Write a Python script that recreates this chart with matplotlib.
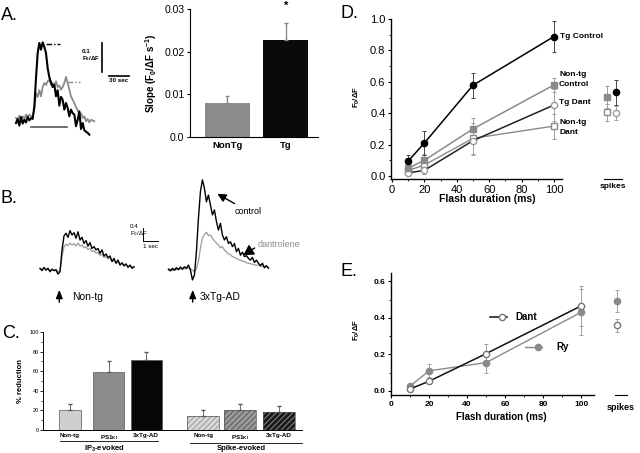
import matplotlib
matplotlib.use('Agg')
import matplotlib.pyplot as plt
import numpy as np
from matplotlib.lines import Line2D

plt.rcParams['font.family'] = ['Liberation Sans', 'DejaVu Sans']
plt.rcParams['mathtext.default'] = 'regular'
plt.rcParams['hatch.linewidth'] = 0.7

W, H = 640, 453

# --- A: Ca traces (F0/dF, one sample every 2.5 s) and slopes
a_dt = 2.5
a_tg_trace = [0, .014, -.009, .021, -.002, .011, .002, .021, .009, .017, .014, .057,
              .155, .241, .276, .253, .278, .262, .241, .189, .158, .140, .124, .132,
              .092, .113, .060, .090, .080, .046, .069, .052, .023, .046, .034, .029,
              -.011, .011, .040, -.021, 0, -.025, -.030, -.034, -.040]
a_nontg_trace = [.017, .011, .025, .011, .023, .014, .029, .021, .029, .023, .025, .046,
                 .103, .090, .113, .092, .124, .138, .131, .144, .149, .132, .138, .129,
                 .144, .124, .129, .115, .124, .138, .159, .138, .115, .092, .080, .069,
                 .055, .044, .029, .034, .017, .023, .006, .014, .002, .011, .009, .006]
a_groups = ['NonTg', 'Tg']
a_slope = [0.0080, 0.0227]
a_slope_err = [0.0016, 0.0040]

# --- B: flash traces (F0/dF, one sample every 2/15 s)
b_dt = 2 / 15
b_nontg_ctrl = [.06, -.02, .09, 0, .06, -.06, .02, -.02, 0, -.14, -.06, .69, 1.17, 1.26,
                1.12, 1.35, 1.20, 1.28, 1.09, 1.31, 1.03, 1.12, .91, 1.01, .82, .94, .74,
                .80, .69, .74, .57, .69, .48, .55, .43, .48, .29, .40, .23, .34, .17, .25,
                .14, .21, .09, .17, .06, .11]
b_nontg_dant = [.03, .02, .05, .01, .03, -.02, .04, 0, .02, -.05, -.03, .45, .80, .88,
                .84, .92, .86, .90, .83, .92, .82, .86, .76, .80, .70, .74, .63, .66, .58,
                .60, .50, .54, .43, .46, .38, .40, .30, .33, .25, .27, .20, .22, .16, .18,
                .12, .14, .10, .11]
b_tg_ctrl = [.03, -.03, .06, -.01, .08, .01, .10, .03, .11, .06, .17, 0, -.34, -.17, .63,
             1.77, 2.69, 3.09, 2.80, 2.34, 2.57, 2.23, 1.89, 2.06, 1.66, 1.37, 1.60, 1.20,
             1.03, 1.14, .91, .97, .80, .91, .63, .74, .51, .61, .46, .49, .40, .34, .43,
             .26, .34, .23, .15, .23, .08, .15, .06]
b_tg_dant = [0, .03, -.02, .04, .01, .05, .02, .06, .03, .05, .07, .04, 0, -.06, .05, .30,
             .75, 1.10, 1.22, 1.29, 1.18, 1.20, 1.09, 1.00, .92, .86, .76, .80, .68, .62,
             .55, .53, .46, .43, .40, .36, .34, .30, .29, .25, .23, .22, .20, .18, .16,
             .17, .14, .12, .10, .11, .09]
b_tg_start = 8.56  # s, where the 3xTg-AD trace starts

# --- C: % reduction by dantrolene
c_labels = ['Non-tg', 'PS1$_{KI}$', '3xTg-AD']
c_ip3 = [20, 59, 71]
c_ip3_err = [7, 11, 9]
c_spike = [14, 20.5, 18]
c_spike_err = [6, 6, 6]

# --- D: flash duration series
flash = [10, 20, 50, 100]
d_tg_ctrl = [0.095, 0.21, 0.578, 0.888]
d_tg_ctrl_err = [0.04, 0.075, 0.08, 0.10]
d_nontg_ctrl = [0.05, 0.10, 0.30, 0.58]
d_nontg_ctrl_err = [0.02, 0.04, 0.07, 0.045]
d_tg_dant = [0.02, 0.036, 0.225, 0.452]
d_tg_dant_err = [0.01, 0.02, 0.09, 0.10]
d_nontg_dant = [0.035, 0.07, 0.24, 0.318]
d_nontg_dant_err = [0.01, 0.02, 0.10, 0.08]
# spikes: nontg ctrl, tg ctrl, nontg dant, tg dant
d_spk = [0.505, 0.533, 0.405, 0.40]
d_spk_err = [0.07, 0.08, 0.055, 0.045]

# --- E
e_dant = [0.011, 0.053, 0.204, 0.465]
e_dant_err = [0.008, 0.015, 0.055, 0.11]
e_ry = [0.026, 0.11, 0.155, 0.43]
e_ry_err = [0.01, 0.035, 0.055, 0.125]
e_spk = [0.49, 0.36]  # ry, dant
e_spk_err = [0.06, 0.035]

GREY = '#8a8a8a'

fig = plt.figure(figsize=(6.4, 4.53), dpi=100)


def box(x0, y0, x1, y1):
    return fig.add_axes([x0 / W, 1 - y1 / H, (x1 - x0) / W, (y1 - y0) / H])


def fp(x, y):
    return (x / W, 1 - y / H)


def ftext(x, y, s, **kw):
    fig.text(x / W, 1 - y / H, s, **kw)


# panel letters
for lab, (x, y) in zip('ABCDE', [(1, 20), (1, 203), (2, 338), (341, 18), (341, 276)]):
    ftext(x, y, lab + '.', fontsize=13, va='baseline')

# ---------- A traces
ax = box(10, 35, 135, 140)
t = np.arange(len(a_nontg_trace)) * a_dt
ax.plot(t, a_nontg_trace, color=GREY, lw=1.3)
t = np.arange(len(a_tg_trace)) * a_dt
ax.plot(t, a_tg_trace, color='k', lw=1.5)
ax.plot([45, 66], [0.272, 0.272], color='k', lw=1, ls=(0, (4, 1.5, 1, 1.5)))
ax.plot([76, 96], [0.140, 0.140], color=GREY, lw=1, ls=(0, (4, 1.5, 1, 1.5)))
ax.plot([22, 76], [-0.014, -0.014], color='#555555', lw=1.2)
ax.plot([129.5, 129.5], [0.176, 0.276], color='k', lw=1.2)
ax.plot([139.5, 169.5], [0.163, 0.163], color='k', lw=1.2)
ax.text(98.5, 0.245, '0.1', fontsize=4.5, fontweight='bold', va='center')
ax.text(98.5, 0.222, 'F$_0$/ΔF', fontsize=4.5, fontweight='bold', va='center')
ax.text(154.5, 0.155, '30 sec', fontsize=4.5, fontweight='bold', ha='center', va='top')
ax.set_xlim(-9, 178.5)
ax.set_ylim(-0.0586, 0.3034)
ax.axis('off')

# ---------- A bars
ax = box(190, 9, 318, 137)
xa = np.arange(len(a_groups))
ax.bar(xa, a_slope, width=0.77, color=['#8c8c8c', '#0a0a0a'], edgecolor='none')
ax.errorbar(xa, a_slope, yerr=[[0, 0], a_slope_err], fmt='none', ecolor=GREY,
            elinewidth=1, capsize=1.5)
ax.text(1, 0.0308, '*', ha='center', va='center', fontsize=8, fontweight='bold')
ax.set_xlim(-0.64, 1.55)
ax.set_ylim(0, 0.03)
ax.set_yticks([0, 0.01, 0.02, 0.03], ['0.0', '0.01', '0.02', '0.03'])
ax.set_xticks(xa, a_groups, fontweight='bold', fontsize=6.8)
ax.tick_params(axis='x', length=0, pad=3)
ax.tick_params(axis='y', labelsize=7.5, length=2.5, width=0.8, pad=1.5)
for s in ['top', 'right']:
    ax.spines[s].set_visible(False)
for s in ['left', 'bottom']:
    ax.spines[s].set_linewidth(0.8)
ax.set_ylabel('Slope (F$_0$/ΔF s$^{-1}$)', fontsize=7, fontweight='bold', labelpad=4)

# ---------- B traces
ax = box(30, 165, 300, 290)
t = np.arange(len(b_nontg_dant)) * b_dt
ax.plot(t, b_nontg_dant, color='#9a9a9a', lw=0.9)
ax.plot(t, b_nontg_ctrl, color='k', lw=1.0)
t = b_tg_start + np.arange(len(b_tg_dant)) * b_dt
ax.plot(t, b_tg_dant, color='#9a9a9a', lw=0.9)
ax.plot(t, b_tg_ctrl, color='k', lw=1.0)
ax.plot([6.84, 6.84], [1.03, 1.43], color='k', lw=0.7)
ax.plot([6.84, 7.84], [1.0, 1.0], color='k', lw=0.7)
ax.text(6.0, 1.48, '0.4', fontsize=4.5, va='center')
ax.text(6.0, 1.26, 'F$_0$/ΔF', fontsize=4.5, va='center')
ax.text(7.35, 0.9, '1 sec', fontsize=4.5, ha='center', va='top')
ax.set_xlim(-0.667, 17.33)
ax.set_ylim(-0.685, 3.6)
ax.axis('off')

arrow_kw = dict(arrowstyle='-|>,head_length=0.5,head_width=0.2', color='k', lw=1)
fig.add_artist(plt.Annotation('', xy=fp(59.3, 287), xytext=fp(59.3, 305),
                              xycoords='figure fraction', arrowprops=arrow_kw))
fig.add_artist(plt.Annotation('', xy=fp(192.7, 287), xytext=fp(192.7, 305),
                              xycoords='figure fraction', arrowprops=arrow_kw))
ftext(72, 300, 'Non-tg', fontsize=7.5)
ftext(200, 300, '3xTg-AD', fontsize=7.5)
fig.add_artist(plt.Annotation('', xy=fp(215, 192.5), xytext=fp(237, 205),
                              xycoords='figure fraction',
                              arrowprops=dict(arrowstyle='-|>,head_length=0.5,head_width=0.25',
                                              color='k', lw=1)))
ftext(235, 214, 'control', fontsize=6.5)
fig.add_artist(plt.Annotation('', xy=fp(241, 256.5), xytext=fp(257, 246.5),
                              xycoords='figure fraction',
                              arrowprops=dict(arrowstyle='-|>,head_length=0.6,head_width=0.35',
                                              color='k', lw=1)))
ftext(258, 247, 'dantrolene', fontsize=6.5, color='#8a8a8a')

# ---------- C bars
ax = box(43, 332, 302, 430)
ip3_x = [0.72, 1.75, 2.75]
spk_x = [4.27, 5.25, 6.28]
ax.bar(ip3_x, c_ip3, width=[0.6, 0.83, 0.83], color=['#cfcfcf', '#8c8c8c', '#060606'],
       edgecolor='#555555', lw=0.5)
ax.errorbar(ip3_x, c_ip3, yerr=[[0] * 3, c_ip3_err], fmt='none', ecolor='#555555',
            elinewidth=0.6, capsize=1.2)
ax.bar(spk_x, c_spike, width=0.85, color=['#d8d8d8', '#9a9a9a', '#1a1a1a'],
       edgecolor=['#9a9a9a', '#5a5a5a', '#8a8a8a'], lw=0, hatch='//////')
ax.bar(spk_x, c_spike, width=0.85, fill=False, edgecolor='#555555', lw=0.5)
ax.errorbar(spk_x, c_spike, yerr=[[0] * 3, c_spike_err], fmt='none', ecolor='#555555',
            elinewidth=0.6, capsize=1.2)
ax.set_xlim(0, 6.9)
ax.set_ylim(0, 100)
ax.set_yticks(range(0, 101, 20))
ax.set_yticks(range(10, 100, 20), minor=True)
ax.set_xticks(ip3_x + spk_x, c_labels + c_labels, fontsize=4.5, fontweight='bold')
ax.tick_params(axis='x', length=0, pad=2.5)
ax.tick_params(axis='y', labelsize=4, length=2, width=0.6, pad=1)
ax.tick_params(axis='y', which='minor', length=1.2, width=0.5)
for s in ['top', 'right']:
    ax.spines[s].set_visible(False)
for s in ['left', 'bottom']:
    ax.spines[s].set_linewidth(0.7)
ax.set_ylabel('% reduction', fontsize=5.5, fontweight='bold', labelpad=4)
fig.add_artist(Line2D([60 / W, 158 / W], [1 - 441 / H] * 2, color='k', lw=0.6))
fig.add_artist(Line2D([190 / W, 302 / W], [1 - 443 / H] * 2, color='k', lw=0.6))
ftext(104, 449, 'IP$_3$-evoked', fontsize=5.5, fontweight='bold', ha='center', va='center')
ftext(241, 449, 'Spike-evoked', fontsize=5.5, fontweight='bold', ha='center', va='center')


def style_xy(ax, labelsize, bold):
    for s in ['top', 'right']:
        ax.spines[s].set_visible(False)
    for s in ['left', 'bottom']:
        ax.spines[s].set_linewidth(1.0)
    ax.tick_params(labelsize=labelsize, length=2.5, width=0.8, pad=1.5)
    ax.tick_params(which='minor', length=1.5, width=0.6)
    if bold:
        for lab in ax.get_xticklabels() + ax.get_yticklabels():
            lab.set_fontweight('bold')


eb = dict(capsize=1.6, elinewidth=0.7, capthick=0.7)
MS = 4

# ---------- D
ax = box(391, 19, 562, 179)
ax.errorbar(flash, d_nontg_dant, yerr=d_nontg_dant_err, color=GREY, lw=1.0, marker='s',
            ms=MS, mfc='white', mec=GREY, ecolor='#a0a0a0', **eb)
ax.errorbar(flash, d_tg_dant, yerr=d_tg_dant_err, color='#222222', lw=1.1, marker='o',
            ms=MS + 0.5, mfc='white', mec='#999999', ecolor='#a0a0a0', **eb)
ax.errorbar(flash, d_nontg_ctrl, yerr=d_nontg_ctrl_err, color=GREY, lw=1.1, marker='s',
            ms=MS, mfc=GREY, mec=GREY, ecolor='#a0a0a0', **eb)
ax.errorbar(flash, d_tg_ctrl, yerr=d_tg_ctrl_err, color='k', lw=1.1, marker='o',
            ms=MS + 0.5, mfc='k', mec='k', ecolor='#444444', **eb)
ax.set_xlim(-0.6, 105)
ax.set_ylim(-0.019, 1.0)
ax.set_xticks(range(0, 101, 20))
ax.set_xticks(range(10, 100, 20), minor=True)
ax.set_yticks(np.arange(0, 1.01, 0.2), ['0.0', '0.2', '0.4', '0.6', '0.8', '1.0'])
ax.set_yticks(np.arange(0.1, 1.0, 0.2), minor=True)
style_xy(ax, 8, False)
ftext(357, 97, 'F$_0$/ΔF', fontsize=5.5, fontweight='bold', rotation=90,
      ha='center', va='center')
ftext(487, 199, 'Flash duration (ms)', fontsize=7.5, fontweight='bold', ha='center',
      va='center')
lab_kw = dict(fontsize=6, fontweight='bold', va='center')
ftext(560, 37, 'Tg Control', **lab_kw)
ftext(559, 75, 'Non-tg', **lab_kw)
ftext(559, 84, 'Control', **lab_kw)
ftext(559, 102, 'Tg Dant', **lab_kw)
ftext(560, 123, 'Non-tg', **lab_kw)
ftext(560, 133, 'Dant', **lab_kw)

ax = box(598, 19, 630, 179)
ax.errorbar([9], d_spk[0], yerr=d_spk_err[0], marker='s', ms=MS, color=GREY, mfc=GREY,
            ecolor='#a0a0a0', **eb)
ax.errorbar([18], d_spk[1], yerr=d_spk_err[1], marker='o', ms=MS + 0.5, color='k', mfc='k',
            ecolor='#444444', **eb)
ax.errorbar([9], d_spk[2], yerr=d_spk_err[2], marker='s', ms=MS, color=GREY, mfc='white',
            mec=GREY, ecolor='#a0a0a0', **eb)
ax.errorbar([18], d_spk[3], yerr=d_spk_err[3], marker='o', ms=MS + 0.5, color='#999999',
            mfc='white', mec='#999999', ecolor='#a0a0a0', **eb)
ax.set_xlim(0, 32)
ax.set_ylim(-0.019, 1.0)
for s in ['top', 'right', 'left']:
    ax.spines[s].set_visible(False)
ax.spines['bottom'].set_bounds(6, 24)
ax.spines['bottom'].set_linewidth(0.8)
ax.set_xticks([])
ax.set_yticks([])
ax.patch.set_visible(False)
ftext(613, 187, 'spikes', fontsize=6, fontweight='bold', ha='center', va='center')

# ---------- E
ax = box(391, 273, 594, 395)
ax.errorbar(flash, e_ry, yerr=e_ry_err, color=GREY, lw=1.0, marker='o', ms=MS + 0.5,
            mfc=GREY, mec=GREY, ecolor='#a0a0a0', **eb)
ax.errorbar(flash, e_dant, yerr=e_dant_err, color='#111111', lw=1.1, marker='o',
            ms=MS + 0.5, mfc='white', mec='#777777', ecolor='#a0a0a0', **eb)
ax.set_xlim(0, 106.8)
ax.set_ylim(-0.022, 0.645)
ax.set_xticks(range(0, 101, 20))
ax.set_xticks(range(10, 100, 20), minor=True)
ax.set_yticks(np.arange(0, 0.61, 0.2), ['0.0', '0.2', '0.4', '0.6'])
ax.set_yticks(np.arange(0.1, 0.6, 0.2), minor=True)
style_xy(ax, 6, True)
ftext(357, 330, 'F$_0$/ΔF', fontsize=5.5, fontweight='bold', rotation=90,
      ha='center', va='center')
ftext(501, 417, 'Flash duration (ms)', fontsize=7, fontweight='bold', ha='center',
      va='center')
fig.add_artist(Line2D([490 / W, 507 / W], [1 - 317 / H] * 2, color='#111111', lw=1.1))
fig.add_artist(Line2D([502 / W], [1 - 317 / H], marker='o', ms=MS + 0.5, mfc='white',
                      mec='#777777'))
ftext(515, 317, 'Dant', fontsize=7, fontweight='bold', va='center')
fig.add_artist(Line2D([525 / W, 542 / W], [1 - 347 / H] * 2, color=GREY, lw=1.0))
fig.add_artist(Line2D([538 / W], [1 - 347 / H], marker='o', ms=MS + 0.5, mfc=GREY,
                      mec=GREY))
ftext(556, 347, 'Ry', fontsize=7, fontweight='bold', va='center')

ax = box(600, 273, 640, 395)
ax.errorbar([17], e_spk[0], yerr=e_spk_err[0], marker='o', ms=MS + 0.5, color=GREY,
            mfc=GREY, ecolor='#a0a0a0', **eb)
ax.errorbar([17], e_spk[1], yerr=e_spk_err[1], marker='o', ms=MS + 0.5, color='#777777',
            mfc='white', mec='#777777', ecolor='#a0a0a0', **eb)
ax.set_xlim(0, 40)
ax.set_ylim(-0.022, 0.645)
for s in ['top', 'right', 'left']:
    ax.spines[s].set_visible(False)
ax.spines['bottom'].set_bounds(15, 27)
ax.spines['bottom'].set_linewidth(0.8)
ax.set_xticks([])
ax.set_yticks([])
ax.patch.set_visible(False)
ftext(621, 407, 'spikes', fontsize=6.5, fontweight='bold', ha='center', va='center')

fig.savefig('out.png', dpi=100)
